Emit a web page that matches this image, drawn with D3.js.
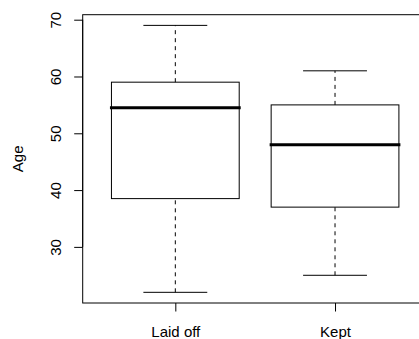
<!DOCTYPE html>
<html>
<head>
<meta charset="utf-8">
<script src="https://cdn.jsdelivr.net/npm/d3@7"></script>
<style>
  html, body { margin: 0; padding: 0; background: #fff; }
  svg { display: block; }
  text { font-family: "Liberation Sans", Arial, sans-serif; fill: #000; }
</style>
</head>
<body>
<svg id="chart" width="419" height="339"></svg>
<script>
// Data
const categories = ["Laid off", "Kept"];
const whiskerLow = [22, 25];
const q1 = [38.5, 37];
const median = [54.5, 48];
const q3 = [59, 55];
const whiskerHigh = [69, 61];
const yTicks = [30, 40, 50, 60, 70];
const yLabel = "Age";

const svg = d3.select("#chart");

// R-style limits: range extended by 4%
const yMin = d3.min(whiskerLow), yMax = d3.max(whiskerHigh);
const yPad = (yMax - yMin) * 0.04;
const n = categories.length;
const xPad = n * 0.04;

const plotLeft = 82.7, plotTop = 14.7, plotBottom = 303;
const unit = 159.7;
const plotRight = plotLeft + (n + 2 * xPad) * unit;

const y = d3.scaleLinear().domain([yMin - yPad, yMax + yPad]).range([plotBottom, plotTop]);
const x = d3.scaleLinear().domain([0.5 - xPad, n + 0.5 + xPad]).range([plotLeft, plotRight]);

const boxW = 0.8, capW = 0.4;

// frame
svg.append("rect")
  .attr("x", plotLeft).attr("y", plotTop)
  .attr("width", plotRight - plotLeft).attr("height", plotBottom - plotTop)
  .attr("fill", "none").attr("stroke", "#000").attr("stroke-width", 1);

const g = svg.append("g");
categories.forEach((c, i) => {
  const cx = i + 1;
  // whiskers (dashed)
  g.append("line")
    .attr("x1", x(cx)).attr("x2", x(cx))
    .attr("y1", y(whiskerLow[i])).attr("y2", y(q1[i]))
    .attr("stroke", "#000").attr("stroke-dasharray", "4,4");
  g.append("line")
    .attr("x1", x(cx)).attr("x2", x(cx))
    .attr("y1", y(q3[i])).attr("y2", y(whiskerHigh[i]))
    .attr("stroke", "#000").attr("stroke-dasharray", "4,4");
  // caps
  [whiskerLow[i], whiskerHigh[i]].forEach(v => {
    g.append("line")
      .attr("x1", x(cx - capW / 2)).attr("x2", x(cx + capW / 2))
      .attr("y1", y(v)).attr("y2", y(v))
      .attr("stroke", "#000");
  });
  // box
  g.append("rect")
    .attr("x", x(cx - boxW / 2)).attr("y", y(q3[i]))
    .attr("width", x(cx + boxW / 2) - x(cx - boxW / 2))
    .attr("height", y(q1[i]) - y(q3[i]))
    .attr("fill", "none").attr("stroke", "#000");
  // median
  g.append("line")
    .attr("x1", x(cx - boxW / 2)).attr("x2", x(cx + boxW / 2))
    .attr("y1", y(median[i])).attr("y2", y(median[i]))
    .attr("stroke", "#000").attr("stroke-width", 3).attr("stroke-linecap", "square");
});

// y axis
const yAxis = d3.axisLeft(y).tickValues(yTicks).tickSize(8.5).tickPadding(0).tickFormat(d3.format("d"));
const ya = svg.append("g").attr("transform", `translate(${plotLeft},0)`).call(yAxis);
ya.select(".domain").attr("d", `M0,${y(d3.min(yTicks))}V${y(d3.max(yTicks))}`).attr("stroke", "#000");
ya.selectAll(".tick line").attr("stroke", "#000");
ya.selectAll(".tick text")
  .attr("x", 0).attr("dy", null)
  .attr("transform", d => `translate(${61.5 - plotLeft},0) rotate(-90)`)
  .attr("text-anchor", "middle")
  .style("font-size", "15px").style("font-family", "Liberation Sans, Arial, sans-serif").attr("fill", "#000");

// x axis
const xAxis = d3.axisBottom(x).tickValues(categories.map((c, i) => i + 1))
  .tickSize(8.5).tickFormat((d) => categories[d - 1]);
const xa = svg.append("g").attr("transform", `translate(0,${plotBottom})`).call(xAxis);
xa.select(".domain").remove();
xa.selectAll(".tick line").attr("stroke", "#000");
xa.selectAll(".tick text")
  .attr("y", 337 - plotBottom).attr("dy", null)
  .style("font-size", "15px").style("font-family", "Liberation Sans, Arial, sans-serif").attr("fill", "#000");

// y label
svg.append("text")
  .attr("transform", `translate(23,${(plotTop + plotBottom) / 2}) rotate(-90)`)
  .attr("text-anchor", "middle")
  .style("font-size", "15px")
  .text(yLabel);
</script>
</body>
</html>
